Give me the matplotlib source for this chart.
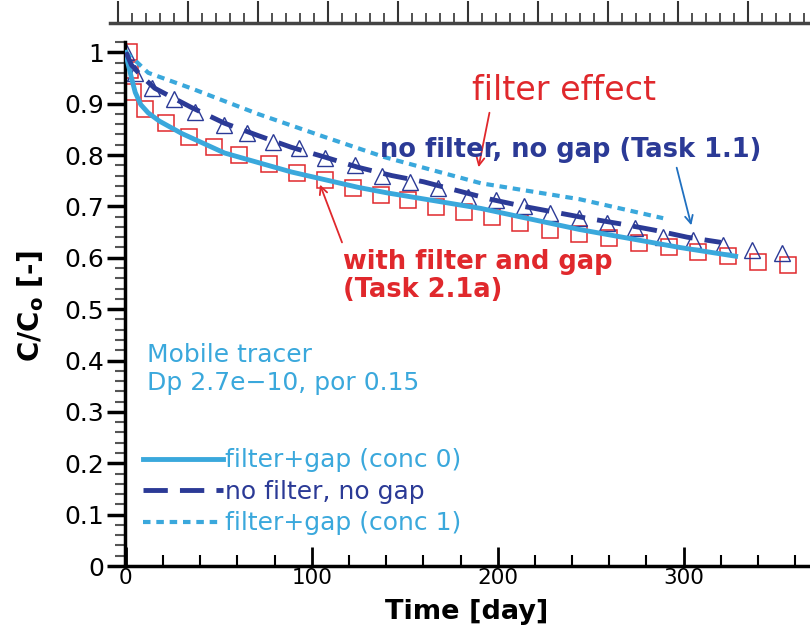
import numpy as np
import matplotlib
matplotlib.use('Agg')
import matplotlib.pyplot as plt
from matplotlib.patches import FancyArrowPatch
from matplotlib.ticker import MultipleLocator, FuncFormatter

# curves (time in days, C/Co)
t_conc0 = [0, 1, 3, 5, 8, 12, 18, 30, 53, 89, 125, 141, 191, 244, 298, 328]
c_conc0 = [1.0, 0.98, 0.95, 0.922, 0.898, 0.882, 0.866, 0.842, 0.804, 0.767, 0.737, 0.726, 0.696, 0.655, 0.62, 0.603]

t_nofilter = [0, 3, 8, 15.5, 35, 53, 71, 89, 107, 125, 143, 160, 178, 196, 214, 248, 266, 284, 302, 320]
c_nofilter = [1.0, 0.975, 0.955, 0.93, 0.893, 0.862, 0.838, 0.815, 0.796, 0.776, 0.76, 0.748, 0.731, 0.714, 0.70, 0.677, 0.666, 0.654, 0.64, 0.63]

t_conc1 = [0, 2, 5, 12, 35, 71, 107, 139, 191, 244, 289]
c_conc1 = [1.0, 0.993, 0.984, 0.96, 0.93, 0.88, 0.835, 0.796, 0.745, 0.714, 0.677]

# Task 1.1 triangles
t_tri = [0, 5, 14, 26, 37, 52.5, 65, 79, 93, 107, 123, 138, 153, 168, 184, 199, 214, 228, 244, 259, 274, 289, 305, 321, 337, 353]
c_tri = [1.0, 0.96, 0.93, 0.91, 0.883, 0.858, 0.842, 0.825, 0.813, 0.794, 0.78, 0.76, 0.747, 0.735, 0.718, 0.712, 0.70, 0.687, 0.677, 0.667, 0.657, 0.64, 0.634, 0.624, 0.615, 0.609]

# Task 2.1a squares
t_sq = [1.5, 2, 4, 10, 21.5, 34, 47.5, 61, 77, 92, 107, 122, 137, 152, 167, 182, 197, 212, 228, 244, 260, 276, 292, 308, 324, 340, 356]
c_sq = [1.0, 0.965, 0.922, 0.889, 0.862, 0.835, 0.816, 0.80, 0.782, 0.765, 0.751, 0.736, 0.722, 0.712, 0.699, 0.689, 0.679, 0.668, 0.655, 0.646, 0.638, 0.628, 0.62, 0.611, 0.603, 0.591, 0.585]

light = '#3aa8dc'
dark = '#2b3a96'
red = '#e0282c'

plt.rcParams['font.family'] = ['DejaVu Sans']

fig = plt.figure(figsize=(8.1, 6.3), dpi=100)
ax = fig.add_axes([125/810, 1-566/630, 1-125/810, (566-42)/630])

ax.plot(t_sq, c_sq, 's', ms=11, mfc='none', mec=red, mew=1.1, zorder=2)
ax.plot(t_tri, c_tri, '^', ms=11, mfc='none', mec=dark, mew=1.0, zorder=2)
ax.plot(t_conc0, c_conc0, '-', color=light, lw=3.5, label='filter+gap (conc 0)', zorder=3)
ax.plot(t_nofilter, c_nofilter, '--', color=dark, lw=3.5, dashes=(5, 2.5), label='no filter, no gap', zorder=4)
ax.plot(t_conc1, c_conc1, '--', color=light, lw=3.0, dashes=(1.8, 1.4), label='filter+gap (conc 1)', zorder=3)

ax.set_xlim(-0.5, 368)
ax.set_ylim(0, 1.02)
for s in ['top', 'right']:
    ax.spines[s].set_visible(False)
ax.spines['left'].set_linewidth(2.5)
ax.spines['bottom'].set_linewidth(2.5)

ax.xaxis.set_major_locator(MultipleLocator(100))
ax.xaxis.set_minor_locator(MultipleLocator(20))
ax.yaxis.set_major_locator(MultipleLocator(0.1))
ax.yaxis.set_minor_locator(MultipleLocator(0.02))
ax.yaxis.set_major_formatter(FuncFormatter(lambda v, p: f'{v:g}'))
ax.tick_params(axis='x', which='major', direction='in', length=14, width=2, labelsize=15.5, pad=1.5)
ax.tick_params(axis='x', which='minor', direction='in', length=8, width=1.5)
ax.tick_params(axis='y', which='major', direction='out', length=13, width=2.5, labelsize=18, pad=2)
ax.tick_params(axis='y', which='minor', direction='out', length=7, width=1.5, color='#555555')

def px(x, y):
    return (x/810, 1-y/630)

fig.text(*px(467, 619), 'Time [day]', fontsize=19.5, fontweight='bold', ha='center', va='baseline')
fig.text(*px(31, 306), r'C/C$_\mathbf{o}$ [-]', fontsize=20, fontweight='bold', rotation=90, ha='center', va='center')

leg = ax.legend(loc='lower left', bbox_to_anchor=(0.0, 0.025), frameon=False, labelcolor='linecolor',
                handlelength=3.2, handletextpad=0.1, labelspacing=0.3, borderaxespad=0.3,
                prop={'size': 18})

fig.text(*px(147, 355), 'Mobile tracer', fontsize=18, color=light, va='center')
fig.text(*px(147, 383), 'Dp 2.7e\u221210, por 0.15', fontsize=18, color=light, va='center')

fig.text(*px(472, 90), 'filter effect', fontsize=24, color=red, va='center')
fig.text(*px(380, 150), 'no filter, no gap (Task 1.1)', fontsize=18.5, fontweight='bold', color=dark, va='center')
fig.text(*px(343, 262), 'with filter and gap', fontsize=18.5, fontweight='bold', color=red, va='center')
fig.text(*px(343, 290), '(Task 2.1a)', fontsize=18.5, fontweight='bold', color=red, va='center')

arrow = dict(arrowstyle='->', lw=1.3, mutation_scale=14, transform=fig.transFigure)
fig.add_artist(FancyArrowPatch(px(490, 110), px(478, 170), color=red, **arrow))
fig.add_artist(FancyArrowPatch(px(343, 245), px(319, 182), color=red, **arrow))
fig.add_artist(FancyArrowPatch(px(676, 165), px(692, 228), color='#2070c0', **arrow))

# cropped axis strip at the very top
top = fig.add_axes([110/810, 1-23/630, 1-110/810, 0.001])
top.set_xlim(-8/70, (810-118)/70)
top.set_yticks([])
for s in ['top', 'left', 'right']:
    top.spines[s].set_visible(False)
top.spines['bottom'].set_linewidth(2.5)
top.spines['bottom'].set_color('#444444')
top.xaxis.set_major_locator(MultipleLocator(1))
top.xaxis.set_minor_locator(MultipleLocator(0.2))
top.tick_params(axis='x', which='major', direction='in', length=16, width=1.5, labelbottom=False, color='#333333')
top.tick_params(axis='x', which='minor', direction='in', length=7, width=1.2, color='#333333')
top.patch.set_visible(False)

fig.savefig('out.png', dpi=100)
